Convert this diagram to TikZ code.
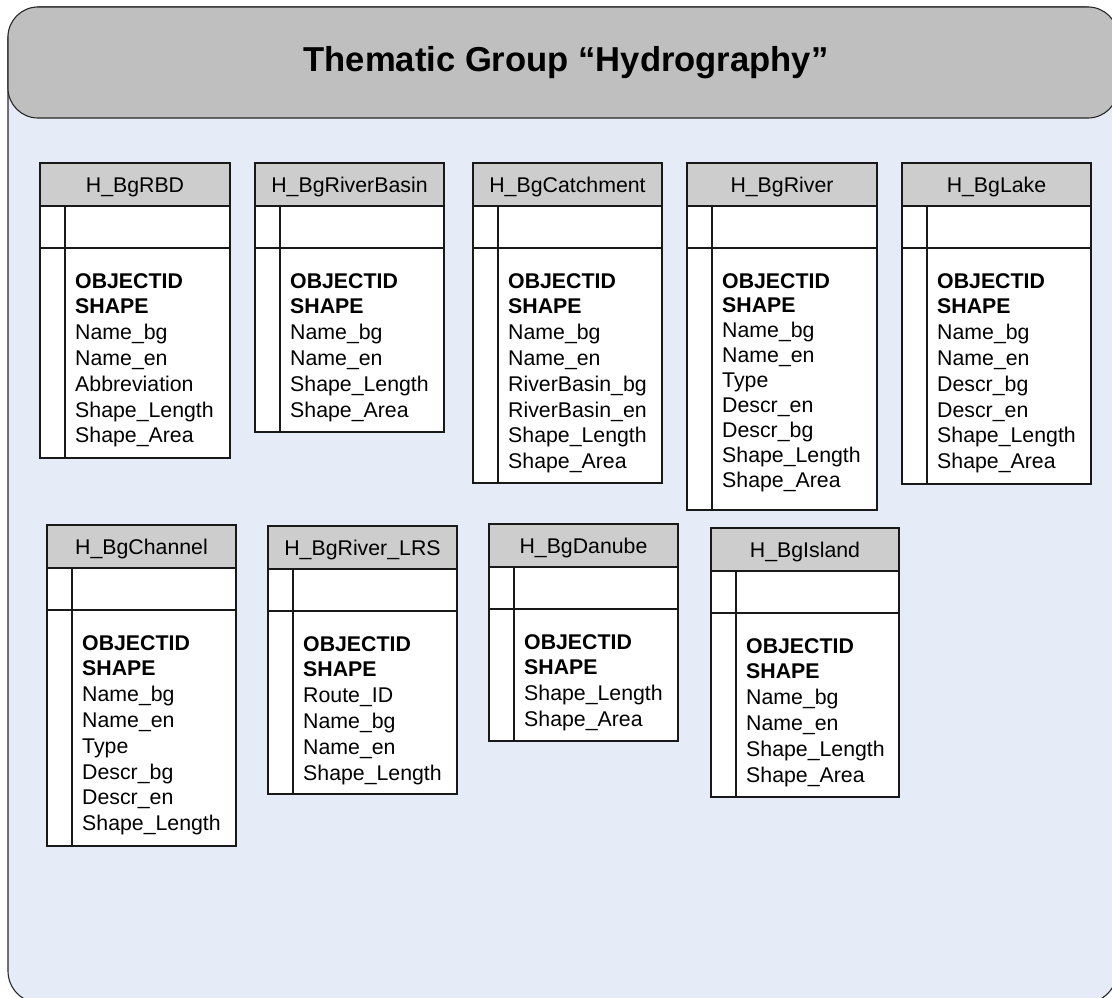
\documentclass[tikz,border=0pt]{standalone}
\usepackage{fontspec}
\setmainfont{Liberation Sans}
\definecolor{panelfill}{RGB}{230,236,247}
\definecolor{bandfill}{RGB}{191,191,191}
\definecolor{headfill}{RGB}{205,205,205}
\definecolor{edge}{RGB}{40,40,40}
\tikzset{
  panel/.style={draw=edge, line width=1.1pt, fill=panelfill, rounded corners=32pt},
  band/.style={draw=edge, line width=1.1pt, fill=bandfill, rounded corners=30pt},
  tbl/.style={draw=black!90, line width=1.4pt},
  headtext/.style={anchor=base, inner sep=0pt, font=\fontsize{21.3}{25}\selectfont},
  fieldtext/.style={anchor=base west, inner sep=0pt, font=\fontsize{21.3}{25}\selectfont},
  titletext/.style={anchor=base, inner sep=0pt, font=\bfseries\fontsize{34.6}{40}\selectfont}
}
% #1 name, #2 left, #3 top, #4 right, #5 bottom, #6 line pitch, #7 title, #8 fields
\newcommand\entitybox[8]{%
  \draw[tbl, fill=white] (#2,#3) rectangle (#4,#5);
  \draw[tbl, fill=headfill] (#2,#3) rectangle (#4,#3+43);
  \node[headtext] (#1) at ({(#2+#4)/2},#3+29) {#7};
  \draw[tbl] (#2,#3+85) -- (#4,#3+85);
  \draw[tbl] (#2+25,#3+43) -- (#2+25,#5);
  \foreach \f [count=\i] in {#8}
    \node[fieldtext] (#1-\i) at (#2+35,{#3+85+40+(\i-1)*#6}) {\f};
}
\begin{document}
\begin{tikzpicture}[x=1pt,y=-1pt]
\useasboundingbox (0,0) rectangle (1112,998);
\clip (0,0) rectangle (1112,998);
% outer panel and title band
\path[panel] (8,7) rectangle (1117,1003);
\path[band] (8,7) rectangle (1118,118);
\node[titletext] (title) at (566,72) {Thematic Group “Hydrography”};

% first row
\entitybox{rbd}{40}{163}{230}{458}{25.8}{H\_BgRBD}%
  {\textbf{OBJECTID},\textbf{SHAPE},Name\_bg,Name\_en,Abbreviation,Shape\_Length,Shape\_Area}
\entitybox{basin}{255}{163}{444}{432}{25.8}{H\_BgRiverBasin}%
  {\textbf{OBJECTID},\textbf{SHAPE},Name\_bg,Name\_en,Shape\_Length,Shape\_Area}
\entitybox{catch}{473}{163}{662}{483}{25.8}{H\_BgCatchment}%
  {\textbf{OBJECTID},\textbf{SHAPE},Name\_bg,Name\_en,RiverBasin\_bg,RiverBasin\_en,Shape\_Length,Shape\_Area}
\entitybox{river}{687}{163}{877}{510}{24.9}{H\_BgRiver}%
  {\textbf{OBJECTID},\textbf{SHAPE},Name\_bg,Name\_en,Type,Descr\_en,Descr\_bg,Shape\_Length,Shape\_Area}
\entitybox{lake}{902}{163}{1091}{484}{25.8}{H\_BgLake}%
  {\textbf{OBJECTID},\textbf{SHAPE},Name\_bg,Name\_en,Descr\_bg,Descr\_en,Shape\_Length,Shape\_Area}

% second row
\entitybox{channel}{47}{525}{236}{846}{25.8}{H\_BgChannel}%
  {\textbf{OBJECTID},\textbf{SHAPE},Name\_bg,Name\_en,Type,Descr\_bg,Descr\_en,Shape\_Length}
\entitybox{lrs}{268}{526}{457}{794}{25.8}{H\_BgRiver\_LRS}%
  {\textbf{OBJECTID},\textbf{SHAPE},Route\_ID,Name\_bg,Name\_en,Shape\_Length}
\entitybox{danube}{489}{524}{678}{741}{25.8}{H\_BgDanube}%
  {\textbf{OBJECTID},\textbf{SHAPE},Shape\_Length,Shape\_Area}
\entitybox{island}{711}{528}{899}{797}{25.8}{H\_BgIsland}%
  {\textbf{OBJECTID},\textbf{SHAPE},Name\_bg,Name\_en,Shape\_Length,Shape\_Area}
\end{tikzpicture}
\end{document}
